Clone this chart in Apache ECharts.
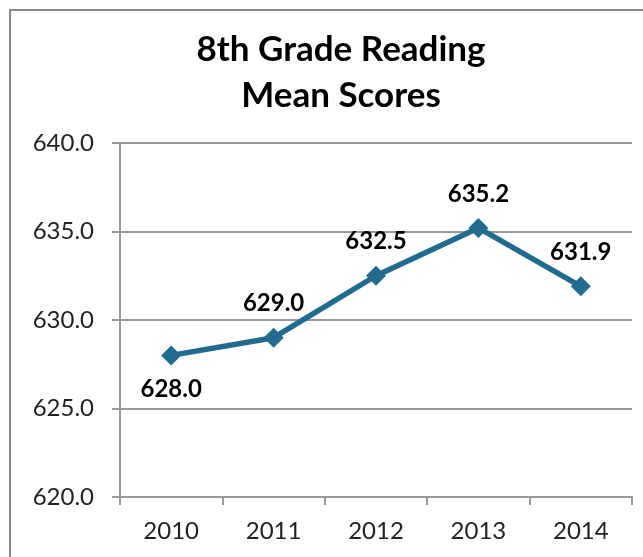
<!DOCTYPE html>
<html>
<head>
<meta charset="utf-8">
<script src="https://cdn.jsdelivr.net/npm/echarts@6/dist/echarts.min.js"></script>
<style>
  html, body { margin: 0; padding: 0; background: #fff; }
  #chart { width: 643px; height: 557px; }
</style>
</head>
<body>
<div id="chart"></div>
<script>
// reading mean scores by year
var years = ['2010', '2011', '2012', '2013', '2014'];
var scores = [628.0, 629.0, 632.5, 635.2, 631.9];
var labelBelow = [true, false, false, false, false];

var myChart = echarts.init(document.getElementById('chart'));
var lineColor = '#216b8f';
var fontFam = 'Lato, "DejaVu Sans", sans-serif';

var option = {
    animation: false,
    backgroundColor: '#fff',
    title: {
        text: '8th Grade Reading\nMean Scores',
        left: 336,
        textAlign: 'center',
        top: 22,
        textStyle: {
            fontFamily: fontFam,
            fontSize: 35,
            fontWeight: 'bold',
            color: '#000',
            lineHeight: 46
        }
    },
    graphic: [{
        type: 'rect',
        shape: {x: 10, y: 10, width: 700, height: 600},
        style: {fill: 'none', stroke: '#888', lineWidth: 2},
        silent: true
    }],
    grid: {
        left: 120,
        top: 143,
        right: 11,
        bottom: 60
    },
    xAxis: {
        type: 'category',
        data: years,
        boundaryGap: true,
        axisLine: {lineStyle: {color: '#999', width: 2}},
        axisTick: {show: true, length: 8, lineStyle: {color: '#999', width: 2}},
        axisLabel: {
            margin: 22,
            fontFamily: fontFam,
            fontSize: 24,
            color: '#222'
        }
    },
    yAxis: {
        type: 'value',
        min: 620,
        max: 640,
        interval: 5,
        axisLine: {show: true, lineStyle: {color: '#999', width: 2}},
        axisTick: {show: true, length: 8, lineStyle: {color: '#999', width: 2}},
        splitLine: {show: true, lineStyle: {color: '#999', width: 2}},
        axisLabel: {
            margin: 26,
            fontFamily: fontFam,
            fontSize: 24,
            color: '#222',
            formatter: function (v) { return v.toFixed(1); }
        }
    },
    series: [{
        type: 'line',
        data: scores.map(function (v, i) {
            return {
                value: v,
                label: {position: labelBelow[i] ? 'bottom' : 'top'}
            };
        }),
        symbol: 'diamond',
        symbolSize: 20,
        lineStyle: {color: lineColor, width: 5.5},
        itemStyle: {color: lineColor},
        label: {
            show: true,
            distance: 12,
            fontFamily: fontFam,
            fontSize: 24,
            fontWeight: 'bold',
            color: '#000',
            formatter: function (p) { return p.value.toFixed(1); }
        }
    }]
};
myChart.setOption(option);
</script>
</body>
</html>
